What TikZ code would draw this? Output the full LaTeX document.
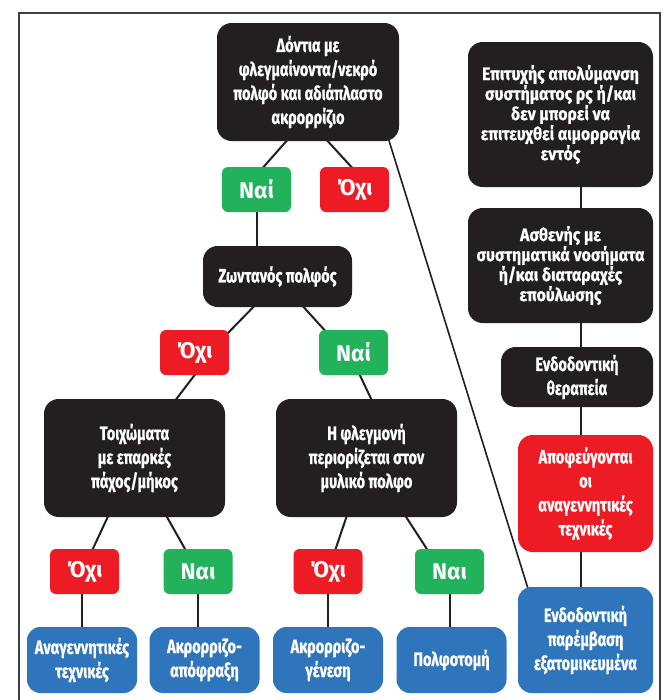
\documentclass[tikz,border=0pt]{standalone}
\usepackage{fontspec}
\setmainfont{Fira Sans}
\newfontfamily\condf[FakeStretch=0.75, BoldFeatures={FakeBold=0.8}]{Fira Sans}
\newfontfamily\condw[FakeStretch=0.88, BoldFeatures={FakeBold=0.8}]{Fira Sans}
\newfontfamily\labf{Fira Sans}
\usetikzlibrary{calc,backgrounds}
\definecolor{boxblack}{HTML}{231F20}
\definecolor{yesgreen}{HTML}{22B25C}
\definecolor{nored}{HTML}{ED1C24}
\definecolor{bluebox}{HTML}{2E75BC}
\tikzset{
  box/.style={rounded corners=11pt, fill=boxblack, text=white, align=center, inner sep=0pt,
    font=\condf\bfseries\fontsize{14.5}{18}\selectfont},
  tightbox/.style={box, font=\condw\bfseries\fontsize{13.5}{15}\selectfont},
  lab/.style={rounded corners=4.5pt, inner sep=0pt, minimum width=51.75pt, minimum height=33.75pt,
    text=white, font=\labf\bfseries\fontsize{17}{18}\selectfont},
  yesbox/.style={lab, fill=yesgreen},
  nobox/.style={lab, fill=nored},
  bluenode/.style={box, fill=bluebox, rounded corners=10pt, minimum width=82.5pt, minimum height=49.5pt},
  conn/.style={line width=1.5pt, draw=boxblack},
  diag/.style={line width=1.2pt, draw=boxblack}
}
\begin{document}
\begin{tikzpicture}[x=0.75pt, y=-0.75pt]
\useasboundingbox (0,0) rectangle (670,700);
% frame
\draw[line width=1.2pt, black!75] (19,700) -- (19,13) -- (660,13) -- (660,700);

% main tree
\node[box, minimum width=136.5pt, minimum height=88.5pt] (top) at (308,82)
  {Δόντια με\\φλεγμαίνοντα/νεκρό\\πολφό και αδιάπλαστο\\ακρορρίζιο};
\node[yesbox] (nai1) at (256.5,189.5) {Ναί};
\node[nobox] (oxi1) at (354.5,189.5) {Όχι};
\node[box, minimum width=111.75pt, minimum height=45.75pt] (zont) at (277.5,276.5) {Ζωντανός πολφός};
\node[nobox] (oxi2) at (194.5,352.5) {Όχι};
\node[yesbox] (nai2) at (353.5,352.5) {Ναί};
\node[box, minimum width=135.75pt, minimum height=88.5pt] (toix) at (134.5,458)
  {Τοιχώματα\\με επαρκές\\πάχος/μήκος};
\node[box, minimum width=135.75pt, minimum height=88.5pt] (fleg) at (366.5,458)
  {Η φλεγμονή\\περιορίζεται στον\\μυλικό πολφο};
\node[nobox] (oxi3) at (84.5,571.5) {Όχι};
\node[yesbox] (nai3) at (198,571.5) {Ναι};
\node[nobox] (oxi4) at (328,571.5) {Όχι};
\node[yesbox] (nai4) at (449.5,571.5) {Ναι};
\node[bluenode] (blue1) at (82,660) {Αναγεννητικές\\τεχνικές};
\node[bluenode] (blue2) at (204.5,660) {Ακρορριζο-\\απόφραξη};
\node[bluenode] (blue3) at (328,660) {Ακρορριζο-\\γένεση};
\node[bluenode] (blue4) at (451.5,660) {Πολφοτομή};

% right column
\node[tightbox, minimum width=138.75pt, minimum height=108.75pt] (epit) at (560.5,114.5)
  {Επιτυχής απολύμανση\\συστήματος ρς ή/και\\δεν μπορεί να\\επιτευχθεί αιμορραγία\\εντός};
\node[tightbox, minimum width=138.75pt, minimum height=86.25pt] (asth) at (560.5,265.5)
  {Ασθενής με\\συστηματικά νοσήματα\\ή/και διαταραχές\\επούλωσης};
\node[box, minimum width=114pt, minimum height=45pt] (endo) at (577,377)
  {Ενδοδοντική\\θεραπεία};
\node[box, fill=nored, minimum width=101.25pt, minimum height=87.75pt] (apof) at (585.5,493.5)
  {Αποφεύγονται\\οι\\αναγεννητικές\\τεχνικές};
\node[bluenode, minimum width=101.25pt, minimum height=79.5pt] (blue5) at (585.5,640)
  {Ενδοδοντική\\παρέμβαση\\εξατομικευμένα};

\begin{scope}[on background layer]
  \fill[white] (0,0) rectangle (670,700);
  \draw[conn] ($(top.south)+(-20,-2)$) -- ($(nai1.north)+(5.5,2)$);
  \draw[conn] ($(top.south)+(18,-2)$) -- ($(oxi1.north)+(-1.5,2)$);
  \draw[conn] (nai1.south) -- (nai1.south |- zont.north);
  \draw[diag] ($(top.south east)+(-11,-3)$) -- ($(blue5.north west)+(10,1)$);
  \draw[conn] ($(zont.south)+(-22.5,-2)$) -- ($(oxi2.north east)+(-2,4)$);
  \draw[conn] ($(zont.south)+(24.5,-2)$) -- ($(nai2.north)+(-27.5,2)$);
  \draw[conn] ($(oxi2.south)+(1.5,-2)$) -- ($(toix.north)+(40.5,2)$);
  \draw[conn] ($(nai2.south)+(5.5,-2)$) -- ($(fleg.north)+(5.5,2)$);
  \draw[conn] ($(toix.south)+(-26,-2)$) -- ($(oxi3.north)+(7.5,2)$);
  \draw[conn] ($(toix.south)+(31.5,-2)$) -- ($(nai3.north)+(-12,2)$);
  \draw[conn] ($(fleg.south)+(-19.5,-2)$) -- ($(oxi4.north)+(7,2)$);
  \draw[conn] ($(fleg.south)+(38.5,-2)$) -- ($(nai4.north)+(-21.5,2)$);
  \draw[conn] (oxi3.south -| blue1.north) -- (blue1.north);
  \draw[conn] (nai3.south) -- (nai3.south |- blue2.north);
  \draw[conn] (oxi4.south) -- (blue3.north);
  \draw[conn] (nai4.south) -- (nai4.south |- blue4.north);
  \coordinate (rc) at ($(epit.south)+(20.5,0)$);
  \draw[conn] (rc) -- (rc |- asth.north);
  \draw[conn] (rc |- asth.south) -- (rc |- endo.north);
  \draw[conn] (rc |- endo.south) -- (rc |- apof.north);
  \draw[conn] (rc |- apof.south) -- (rc |- blue5.north);
\end{scope}
\end{tikzpicture}
\end{document}
